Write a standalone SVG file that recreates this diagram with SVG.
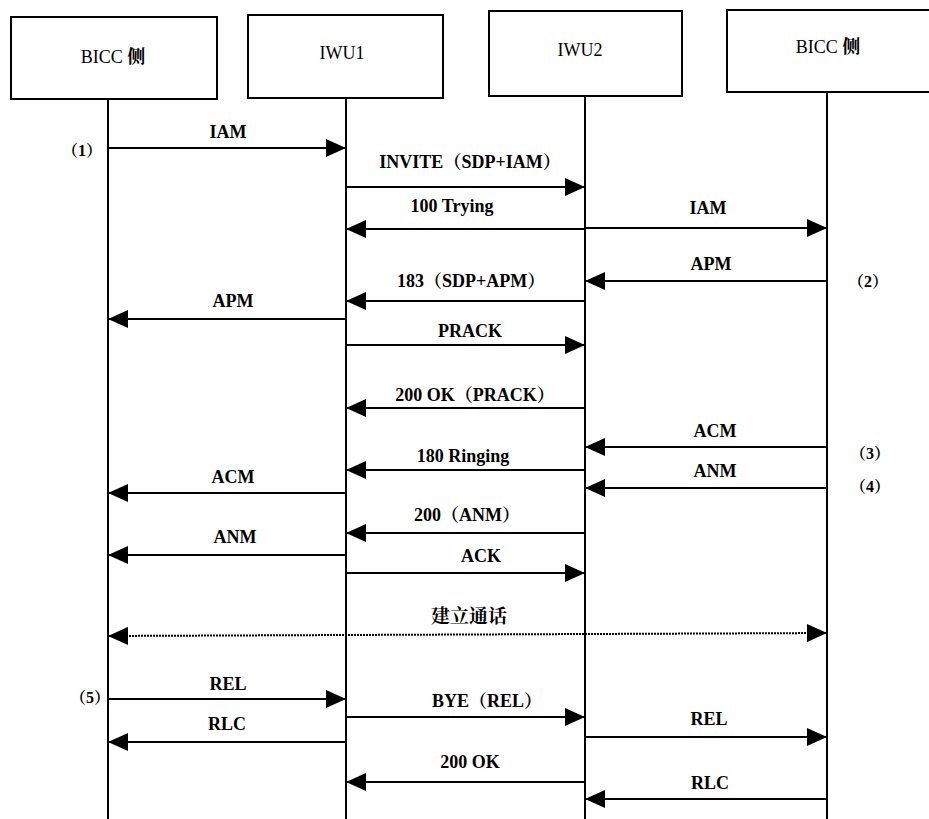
<svg xmlns="http://www.w3.org/2000/svg" width="929" height="819" viewBox="0 0 929 819">
<style>
.box{fill:#fff;stroke:#000;stroke-width:2}
.life{stroke:#000;stroke-width:2;fill:none}
.msg{stroke:#000;stroke-width:2;fill:none;marker-end:url(#ah)}
.dot{stroke:#000;stroke-width:2;fill:none;stroke-dasharray:2 1;marker-end:url(#ah);marker-start:url(#ahs)}
text{fill:#000;text-anchor:middle}
.nl{font-family:'Liberation Serif',serif;font-size:18px}
.ml{font-family:'Liberation Serif',serif;font-size:18px;font-weight:bold}
.sl{font-family:'Liberation Serif',serif;font-size:16px;font-weight:bold}
.cj{font-family:'Noto Serif CJK SC',serif}
.cn{font-family:'Noto Serif CJK SC',serif;font-size:19px;font-weight:bold}
</style>
<defs>
<marker id="ah" markerUnits="userSpaceOnUse" markerWidth="20" markerHeight="18" refX="20" refY="9" orient="auto">
<path d="M0,0 L20,9 L0,18 z" fill="#000"/>
</marker>
<marker id="ahs" markerUnits="userSpaceOnUse" markerWidth="20" markerHeight="18" refX="0" refY="9" orient="auto">
<path d="M20,0 L0,9 L20,18 z" fill="#000"/>
</marker>
</defs>
<rect width="929" height="819" fill="#fff"/>
<g id="node-bicc-left">
<rect class="box" x="11" y="17" width="206" height="82"/>
<text class="nl" x="113" y="63">BICC <tspan class="cj" font-weight="bold">侧</tspan></text>
<line class="life" x1="108" y1="99" x2="108" y2="819"/>
</g>
<g id="node-iwu1">
<rect class="box" x="248" y="15" width="195" height="83"/>
<text class="nl" x="342" y="59">IWU1</text>
<line class="life" x1="346" y1="98" x2="346" y2="819"/>
</g>
<g id="node-iwu2">
<rect class="box" x="489" y="11" width="193" height="85"/>
<text class="nl" x="580" y="56">IWU2</text>
<line class="life" x1="585" y1="96" x2="585" y2="819"/>
</g>
<g id="node-bicc-right">
<rect class="box" x="727" y="10" width="215" height="82"/>
<text class="nl" x="828" y="53">BICC <tspan class="cj" font-weight="bold">侧</tspan></text>
<line class="life" x1="827" y1="92" x2="827" y2="819"/>
</g>
<g id="connectors">
<line class="msg" x1="108" y1="148" x2="346" y2="148"/>
<line class="msg" x1="346" y1="187" x2="585" y2="187"/>
<line class="msg" x1="585" y1="229" x2="346" y2="229"/>
<line class="msg" x1="585" y1="228" x2="827" y2="228"/>
<line class="msg" x1="827" y1="281" x2="585" y2="281"/>
<line class="msg" x1="585" y1="301" x2="346" y2="301"/>
<line class="msg" x1="346" y1="319" x2="108" y2="319"/>
<line class="msg" x1="346" y1="345" x2="585" y2="345"/>
<line class="msg" x1="585" y1="408" x2="346" y2="408"/>
<line class="msg" x1="827" y1="447" x2="585" y2="447"/>
<line class="msg" x1="585" y1="470" x2="346" y2="470"/>
<line class="msg" x1="827" y1="488" x2="585" y2="488"/>
<line class="msg" x1="346" y1="493" x2="108" y2="493"/>
<line class="msg" x1="585" y1="533" x2="346" y2="533"/>
<line class="msg" x1="346" y1="555" x2="108" y2="555"/>
<line class="msg" x1="346" y1="573" x2="585" y2="573"/>
<line class="dot" x1="108" y1="636" x2="827" y2="633"/>
<line class="msg" x1="108" y1="699" x2="346" y2="699"/>
<line class="msg" x1="346" y1="717" x2="585" y2="717"/>
<line class="msg" x1="346" y1="742" x2="108" y2="742"/>
<line class="msg" x1="585" y1="737" x2="827" y2="737"/>
<line class="msg" x1="585" y1="782" x2="346" y2="782"/>
<line class="msg" x1="827" y1="799" x2="585" y2="799"/>
</g>
<g id="labels">
<text class="ml" x="228" y="138">IAM</text>
<text class="ml" x="470" y="168">INVITE<tspan class="cj">（</tspan>SDP+IAM<tspan class="cj">）</tspan></text>
<text class="ml" x="452" y="212">100 Trying</text>
<text class="ml" x="708" y="214">IAM</text>
<text class="ml" x="711" y="270">APM</text>
<text class="ml" x="471" y="287">183<tspan class="cj">（</tspan>SDP+APM<tspan class="cj">）</tspan></text>
<text class="ml" x="233" y="307">APM</text>
<text class="ml" x="470" y="337">PRACK</text>
<text class="ml" x="475" y="401">200 OK<tspan class="cj">（</tspan>PRACK<tspan class="cj">）</tspan></text>
<text class="ml" x="715" y="437">ACM</text>
<text class="ml" x="463" y="462">180 Ringing</text>
<text class="ml" x="715" y="477">ANM</text>
<text class="ml" x="233" y="483">ACM</text>
<text class="ml" x="467" y="521">200<tspan class="cj">（</tspan>ANM<tspan class="cj">）</tspan></text>
<text class="ml" x="235" y="543">ANM</text>
<text class="ml" x="481" y="562">ACK</text>
<text class="cn" x="469" y="623">建立通话</text>
<text class="ml" x="228" y="690">REL</text>
<text class="ml" x="487" y="707">BYE<tspan class="cj">（</tspan>REL<tspan class="cj">）</tspan></text>
<text class="ml" x="227" y="730">RLC</text>
<text class="ml" x="709" y="725">REL</text>
<text class="ml" x="470" y="768">200 OK</text>
<text class="ml" x="710" y="789">RLC</text>
<text class="sl" x="82" y="156"><tspan class="cj">（</tspan>1<tspan class="cj">）</tspan></text>
<text class="sl" x="868" y="287"><tspan class="cj">（</tspan>2<tspan class="cj">）</tspan></text>
<text class="sl" x="870" y="459"><tspan class="cj">（</tspan>3<tspan class="cj">）</tspan></text>
<text class="sl" x="870" y="492"><tspan class="cj">（</tspan>4<tspan class="cj">）</tspan></text>
<text class="sl" x="90" y="703"><tspan class="cj">（</tspan>5<tspan class="cj">）</tspan></text>
</g>
</svg>
